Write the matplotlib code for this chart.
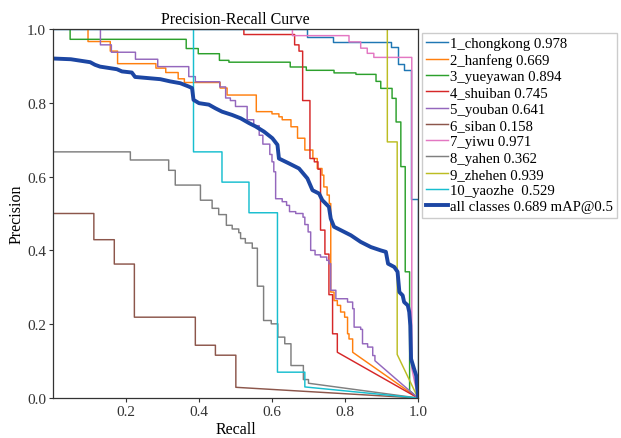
import matplotlib
matplotlib.use("Agg")
import matplotlib.pyplot as plt

# per-class PR curves, stored as precision levels and the recall values where each drop happens
class_names = ["1_chongkong", "2_hanfeng", "3_yueyawan", "4_shuiban", "5_youban",
               "6_siban", "7_yiwu", "8_yahen", "9_zhehen", "10_yaozhe "]
class_ap = [0.978, 0.669, 0.894, 0.745, 0.641, 0.158, 0.971, 0.362, 0.939, 0.529]
map50 = 0.689

chongkong_p = [1.0, 0.979, 0.966, 0.950, 0.904, 0.889, 0.54, 0.0]
chongkong_r = [0.697, 0.768, 0.926, 0.944, 0.962, 0.981, 1.0]

hanfeng_p = [1.0, 0.966, 0.940, 0.906, 0.894, 0.882, 0.865, 0.855, 0.840, 0.821,
             0.776, 0.770, 0.762, 0.754, 0.735, 0.704, 0.672, 0.649, 0.622, 0.604,
             0.572, 0.550, 0.527, 0.287, 0.264, 0.251, 0.233, 0.219, 0.174, 0.160, 0.124]
hanfeng_r = [0.096, 0.157, 0.177, 0.282, 0.309, 0.343, 0.360, 0.458, 0.477, 0.557,
             0.600, 0.619, 0.628, 0.652, 0.670, 0.690, 0.712, 0.724, 0.737, 0.742,
             0.751, 0.757, 0.761, 0.770, 0.779, 0.788, 0.799, 0.807, 0.811, 0.821]

yueyawan_p = [1.0, 0.972, 0.947, 0.933, 0.915, 0.910, 0.897, 0.888, 0.881, 0.877,
              0.858, 0.839, 0.812, 0.748, 0.627, 0.342, 0.02]
yueyawan_r = [0.047, 0.365, 0.398, 0.456, 0.482, 0.650, 0.694, 0.770, 0.830, 0.885,
              0.898, 0.929, 0.940, 0.953, 0.965, 0.977]

shuiban_p = [1.0, 0.985, 0.957, 0.940, 0.806, 0.649, 0.640, 0.620, 0.455, 0.390,
             0.280, 0.174, 0.124]
shuiban_r = [0.523, 0.662, 0.674, 0.684, 0.704, 0.716, 0.726, 0.733, 0.745, 0.756,
             0.766, 0.779]

youban_p = [1.0, 0.957, 0.937, 0.918, 0.898, 0.871, 0.857, 0.843, 0.813, 0.806,
            0.790, 0.754, 0.738, 0.712, 0.688, 0.660, 0.640, 0.613, 0.540, 0.532,
            0.522, 0.505, 0.500, 0.490, 0.470, 0.450, 0.400, 0.388, 0.382, 0.373,
            0.364, 0.292, 0.269, 0.260, 0.242, 0.192, 0.186, 0.147, 0.138, 0.115, 0.101]
youban_r = [0.130, 0.160, 0.226, 0.287, 0.372, 0.390, 0.457, 0.473, 0.486, 0.500,
            0.532, 0.550, 0.565, 0.575, 0.594, 0.600, 0.605, 0.610, 0.628, 0.640,
            0.648, 0.665, 0.685, 0.690, 0.699, 0.706, 0.718, 0.733, 0.750, 0.756,
            0.761, 0.775, 0.807, 0.821, 0.825, 0.843, 0.848, 0.862, 0.876, 0.882]

siban_p = [0.5, 0.429, 0.363, 0.219, 0.143, 0.116, 0.029]
siban_r = [0.112, 0.168, 0.223, 0.390, 0.445, 0.501]

yiwu_p = [1.0, 0.982, 0.965, 0.948, 0.934, 0.923, 0.08]
yiwu_r = [0.656, 0.811, 0.843, 0.861, 0.879, 0.983]

yahen_p = [0.667, 0.645, 0.617, 0.577, 0.536, 0.514, 0.497, 0.468, 0.458, 0.448,
           0.432, 0.420, 0.406, 0.303, 0.210, 0.201, 0.165, 0.147, 0.088, 0.050, 0.040]
yahen_r = [0.212, 0.317, 0.335, 0.404, 0.436, 0.454, 0.475, 0.491, 0.509, 0.514,
           0.527, 0.546, 0.560, 0.577, 0.598, 0.616, 0.635, 0.652, 0.686, 0.700]

zhehen_p = [1.0, 0.694, 0.118]
zhehen_r = [0.916, 0.943]

yaozhe_p = [1.0, 0.667, 0.585, 0.502, 0.070, 0.030]
yaozhe_r = [0.385, 0.463, 0.537, 0.615, 0.690]

# mean curve over all classes
all_r = [0, 0.049, 0.102, 0.115, 0.129, 0.175, 0.189, 0.216, 0.225, 0.294, 0.321,
         0.349, 0.372, 0.381, 0.385, 0.400, 0.427, 0.445, 0.463, 0.491, 0.514, 0.537,
         0.555, 0.578, 0.601, 0.615, 0.619, 0.646, 0.674, 0.697, 0.711, 0.729, 0.738,
         0.756, 0.761, 0.770, 0.788, 0.816, 0.843, 0.871, 0.898, 0.912, 0.918, 0.935,
         0.944, 0.949, 0.958, 0.962, 0.972, 0.976, 0.979, 0.981, 0.988, 0.995, 1.0]
all_p = [0.920, 0.918, 0.910, 0.903, 0.898, 0.891, 0.885, 0.882, 0.870, 0.864, 0.858,
         0.853, 0.844, 0.840, 0.808, 0.799, 0.795, 0.785, 0.776, 0.767, 0.758, 0.745,
         0.736, 0.722, 0.704, 0.686, 0.649, 0.636, 0.622, 0.595, 0.563, 0.554, 0.536,
         0.518, 0.486, 0.464, 0.455, 0.441, 0.423, 0.409, 0.400, 0.396, 0.364, 0.355,
         0.342, 0.287, 0.278, 0.260, 0.251, 0.233, 0.196, 0.106, 0.083, 0.061, 0.006]

curves = [(chongkong_r, chongkong_p), (hanfeng_r, hanfeng_p), (yueyawan_r, yueyawan_p),
          (shuiban_r, shuiban_p), (youban_r, youban_p), (siban_r, siban_p),
          (yiwu_r, yiwu_p), (yahen_r, yahen_p), (zhehen_r, zhehen_p), (yaozhe_r, yaozhe_p)]


def step_path(drops, levels):
    """Step-down PR curve, ending with a straight segment to (1, 0)."""
    r, p = [0.0], [levels[0]]
    for x, lv in zip(drops, levels[1:]):
        r += [x, x]
        p += [p[-1], lv]
    r.append(1.0)
    p.append(0.0)
    return r, p


plt.rcParams["font.family"] = ["Liberation Serif", "DejaVu Serif"]
plt.rcParams["font.size"] = 11

fig = plt.figure(figsize=(6.21, 4.39), dpi=100)
ax = fig.add_axes([0.0853, 0.0911, 0.5878, 0.8406])

for i, ((dr, lv), name, ap) in enumerate(zip(curves, class_names, class_ap)):
    r, p = step_path(dr, lv)
    ax.plot(r, p, linewidth=1.05, color=f"C{i}", label=f"{name} {ap:.3f}")

ax.plot(all_r, all_p, linewidth=2.8, color="#1c46a3", label=f"all classes {map50:.3f} mAP@0.5")

ax.set_xlim(0, 1)
ax.set_ylim(0, 1)
ax.set_xticks([0.2, 0.4, 0.6, 0.8, 1.0])
ax.set_yticks([0.0, 0.2, 0.4, 0.6, 0.8, 1.0])
ax.tick_params(length=3, width=0.8, colors="#333333", labelsize=11, pad=2)
for s in ax.spines.values():
    s.set_color("#333333")
    s.set_linewidth(0.9)
ax.set_xlabel("Recall", fontsize=11.5, labelpad=2)
ax.set_ylabel("Precision", fontsize=11.5, labelpad=2)
ax.set_title("Precision-Recall Curve", fontsize=11.5, pad=4)

ax.legend(loc="upper left", bbox_to_anchor=(1.011, 0.99), borderaxespad=0,
          fontsize=10.6, labelspacing=0.2, handlelength=1.45, handletextpad=0.12,
          borderpad=0.3, fancybox=False, edgecolor="#cccccc", framealpha=1)

fig.savefig("out.png", dpi=100)
